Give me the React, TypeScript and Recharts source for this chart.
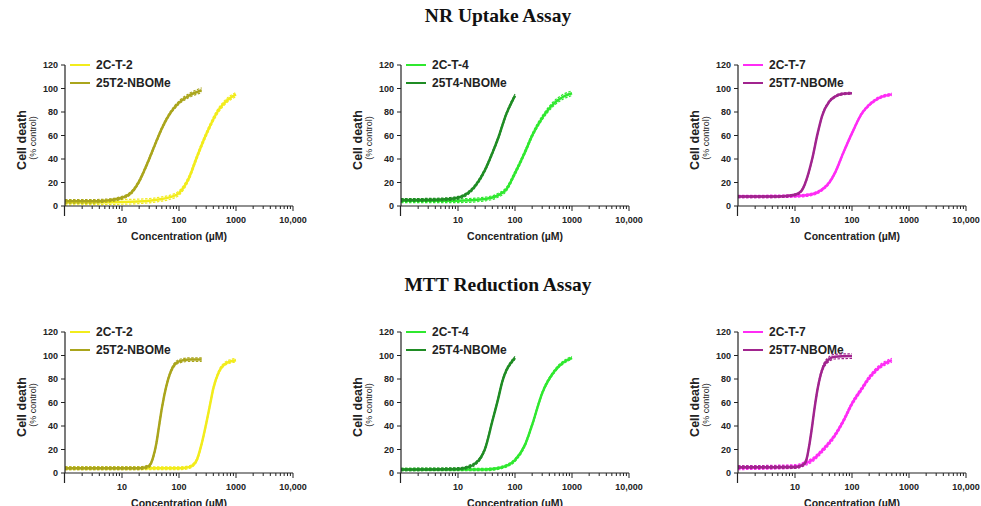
import React from 'react'
import { LineChart, Line, XAxis, YAxis, Customized } from 'recharts'

// NR uptake assay — concentration (µM), cell death (% control), 95% CI half-width
const nrT2x = [1, 10, 30, 50, 70, 100, 150, 200, 300, 500, 700, 1000]
const nrT2y = [3, 3.5, 4.5, 6, 7.5, 11, 24, 40, 61, 82, 90, 95]
const nrT2ci = [2, 2, 1.8, 1.8, 1.8, 1.8, 1.8, 1.8, 1.8, 1.8, 1.8, 1.8]

const nrN2x = [1, 3, 5, 10, 15, 20, 25, 30, 40, 50, 70, 100, 150, 250]
const nrN2y = [4, 4, 4.5, 7, 12, 21, 31, 40, 55, 66, 79, 88, 94, 98.5]
const nrN2ci = [1.5, 1.5, 1.3, 1.2, 1.2, 1.2, 1.2, 1.2, 1.2, 1.2, 1.2, 1.4, 1.7, 2]

const nrT4x = [1, 10, 30, 50, 70, 100, 150, 200, 300, 500, 700, 1000]
const nrT4y = [4.5, 4.5, 6, 9, 14, 28, 46, 60, 75, 88, 93, 96]
const nrT4ci = [1.6, 1.6, 1.6, 1.6, 1.6, 1.6, 1.6, 1.6, 1.7, 1.9, 2, 2]

const nrN4x = [1, 5, 10, 15, 20, 30, 40, 50, 70, 100]
const nrN4y = [5, 5.5, 7, 11, 17, 31, 45, 57, 78, 94]
const nrN4ci = [1.2, 1.2, 1.2, 1.2, 1.2, 1.2, 1.2, 1.2, 1.2, 1.2]

const nrT7x = [1, 10, 20, 30, 40, 50, 70, 100, 150, 200, 300, 500]
const nrT7y = [8, 8.5, 10, 14, 20, 28, 45, 62, 79, 86, 92, 95]
const nrT7ci = [1, 1, 1, 1, 1, 1, 1, 1, 1, 1, 1, 1]

const nrN7x = [1, 5, 10, 13, 15, 20, 25, 30, 40, 50, 70, 100]
const nrN7y = [8, 8, 9.5, 13, 19, 40, 62, 77, 89, 93, 95.5, 96]
const nrN7ci = [0.8, 0.8, 0.8, 0.8, 0.8, 0.8, 0.8, 0.8, 0.8, 0.8, 0.8, 0.8]

// MTT reduction assay
const mtT2x = [1, 100, 150, 200, 250, 300, 350, 400, 500, 700, 1000]
const mtT2y = [4, 4, 5, 10, 25, 42, 58, 72, 86, 94, 96]
const mtT2ci = [1.2, 1.2, 1.2, 1.2, 1.2, 1.2, 1.2, 1.2, 1.3, 1.4, 1.5]

const mtN2x = [1, 10, 20, 30, 35, 40, 45, 50, 60, 70, 80, 100, 150, 250]
const mtN2y = [4, 4, 4, 6, 13, 25, 41, 55, 74, 85, 91, 95, 96.5, 96.5]
const mtN2ci = [1.2, 1.2, 1.2, 1.2, 1.2, 1.2, 1.2, 1.2, 1.2, 1.3, 1.4, 1.5, 1.5, 1.5]

const mtT4x = [1, 30, 50, 70, 100, 150, 200, 300, 500, 700, 1000]
const mtT4y = [3, 3, 4, 6, 11, 24, 41, 68, 87, 94, 98]
const mtT4ci = [1, 1, 1, 1, 1.2, 1.2, 1.2, 1.2, 1.2, 1.2, 1.2]

const mtN4x = [1, 10, 15, 20, 25, 30, 40, 50, 60, 70, 80, 100]
const mtN4y = [3, 3.5, 5, 8, 13, 21, 44, 62, 78, 87, 92, 98]
const mtN4ci = [1, 1, 1.2, 1.2, 1.2, 1.2, 1.2, 1.2, 1.2, 1.2, 1.2, 1.2]

const mtT7x = [1, 10, 15, 20, 30, 50, 70, 100, 150, 200, 300, 500]
const mtT7y = [4.5, 5.5, 8, 11, 19, 32, 44, 59, 72, 81, 90, 96]
const mtT7ci = [1.6, 1.6, 1.6, 1.6, 1.6, 1.6, 1.6, 1.6, 1.6, 1.6, 1.6, 1.6]

const mtN7x = [1, 10, 14, 16, 18, 20, 22, 25, 30, 40, 50, 100]
const mtN7y = [5, 5, 7, 12, 25, 40, 55, 72, 88, 97, 99, 99.5]
const mtN7ci = [1, 1, 1, 1, 1, 1, 1, 1.2, 1.5, 2, 2, 2]

const yTicks = [0, 20, 40, 60, 80, 100, 120]
const majorTicks = [10, 100, 1000, 10000]
const xTickLabels = ['10', '100', '1000', '10,000']
const minorTicks: number[] = []
for (const d of [1, 10, 100, 1000]) for (let k = 2; k <= 9; k++) minorTicks.push(d * k)
const xTicks = [...minorTicks, ...majorTicks].sort((a, b) => a - b)

const FONT = '"Liberation Sans", Arial, Helvetica, sans-serif'
const INK = '#222'

const rows = (xs: number[], ys: number[], ci: number[]) =>
  xs.map((x, i) => ({ x, y: ys[i], hi: ys[i] + ci[i], lo: ys[i] - ci[i] }))

type Curve = { name: string; color: string; data: ReturnType<typeof rows> }

function XTick(props: any) {
  const { x, y, payload } = props
  const idx = majorTicks.indexOf(payload.value)
  const major = idx >= 0
  return (
    <g>
      <line x1={x} x2={x} y1={y} y2={y + (major ? 5 : 3)} stroke={INK} strokeWidth={1} />
      {major && (
        <text x={x} y={y + 17} textAnchor="middle" fontSize={9} fontWeight="bold" fill={INK} fontFamily={FONT}>
          {xTickLabels[idx]}
        </text>
      )}
    </g>
  )
}

function Decor({ curves }: { curves: Curve[] }) {
  return (
    <g fontFamily={FONT} fill={INK}>
      <line x1={64.5} x2={64.5} y1={206} y2={216} stroke={INK} strokeWidth={1.2} />
      <text transform="translate(26,140) rotate(-90)" textAnchor="middle" fontSize={12.5} fontWeight="bold">
        Cell death
      </text>
      <text transform="translate(36,138) rotate(-90)" textAnchor="middle" fontSize={9}>
        (% control)
      </text>
      <text x={179} y={240} textAnchor="middle" fontSize={10.5} fontWeight="bold">
        Concentration (µM)
      </text>
      {curves.map((c, i) => (
        <g key={c.name}>
          <line x1={70} x2={90} y1={65 + i * 18} y2={65 + i * 18} stroke={c.color} strokeWidth={2} />
          <text x={96} y={69 + i * 18} fontSize={12} fontWeight="bold">
            {c.name}
          </text>
        </g>
      ))}
    </g>
  )
}

function Panel({ left, top, curves }: { left: number; top: number; curves: Curve[] }) {
  return (
    <div style={{ position: 'absolute', left, top }}>
      <LineChart width={308} height={250} margin={{ top: 65, right: 15, bottom: 14, left: 4 }}>
        <XAxis
          dataKey="x"
          type="number"
          scale="log"
          domain={[1, 10000]}
          allowDataOverflow
          ticks={xTicks}
          interval={0}
          tick={<XTick />}
          tickSize={0}
          tickMargin={0}
          tickLine={false}
          height={30}
          axisLine={{ stroke: INK, strokeWidth: 1.2 }}
        />
        <YAxis
          type="number"
          domain={[0, 120]}
          ticks={yTicks}
          interval={0}
          width={61}
          tickSize={4}
          tickMargin={3}
          tick={{ fontSize: 9, fontWeight: 'bold', fill: INK, fontFamily: FONT }}
          tickLine={{ stroke: INK, strokeWidth: 1 }}
          axisLine={{ stroke: INK, strokeWidth: 1.2 }}
        />
        {curves.map((c) => [
          <Line key={c.name + 'hi'} data={c.data} dataKey="hi" type="monotone" stroke={c.color} strokeWidth={1.2} strokeDasharray="2.5 1.5" dot={false} isAnimationActive={false} />,
          <Line key={c.name + 'lo'} data={c.data} dataKey="lo" type="monotone" stroke={c.color} strokeWidth={1.2} strokeDasharray="2.5 1.5" dot={false} isAnimationActive={false} />,
          <Line key={c.name} data={c.data} dataKey="y" type="monotone" stroke={c.color} strokeWidth={2.5} dot={false} isAnimationActive={false} />,
        ])}
        <Customized component={<Decor curves={curves} />} />
      </LineChart>
    </div>
  )
}

const YELLOW = '#f2ec1c'
const OLIVE = '#aaa51c'
const GREEN = '#2fe82f'
const DKGREEN = '#1f8c24'
const MAGENTA = '#ff2cf5'
const PURPLE = '#a1248e'

const panels = [
  { left: 0, top: 0, curves: [{ name: '2C-T-2', color: YELLOW, data: rows(nrT2x, nrT2y, nrT2ci) }, { name: '25T2-NBOMe', color: OLIVE, data: rows(nrN2x, nrN2y, nrN2ci) }] },
  { left: 336, top: 0, curves: [{ name: '2C-T-4', color: GREEN, data: rows(nrT4x, nrT4y, nrT4ci) }, { name: '25T4-NBOMe', color: DKGREEN, data: rows(nrN4x, nrN4y, nrN4ci) }] },
  { left: 673, top: 0, curves: [{ name: '2C-T-7', color: MAGENTA, data: rows(nrT7x, nrT7y, nrT7ci) }, { name: '25T7-NBOMe', color: PURPLE, data: rows(nrN7x, nrN7y, nrN7ci) }] },
  { left: 0, top: 267, curves: [{ name: '2C-T-2', color: YELLOW, data: rows(mtT2x, mtT2y, mtT2ci) }, { name: '25T2-NBOMe', color: OLIVE, data: rows(mtN2x, mtN2y, mtN2ci) }] },
  { left: 336, top: 267, curves: [{ name: '2C-T-4', color: GREEN, data: rows(mtT4x, mtT4y, mtT4ci) }, { name: '25T4-NBOMe', color: DKGREEN, data: rows(mtN4x, mtN4y, mtN4ci) }] },
  { left: 673, top: 267, curves: [{ name: '2C-T-7', color: MAGENTA, data: rows(mtT7x, mtT7y, mtT7ci) }, { name: '25T7-NBOMe', color: PURPLE, data: rows(mtN7x, mtN7y, mtN7ci) }] },
]

const titleStyle: React.CSSProperties = {
  position: 'absolute',
  left: 0,
  width: 996,
  textAlign: 'center',
  fontFamily: '"Liberation Serif", "Times New Roman", serif',
  fontWeight: 'bold',
  fontSize: 19.5,
  lineHeight: '22px',
  color: '#111',
}

export default function App() {
  return (
    <div style={{ position: 'absolute', left: 0, top: 0, width: 981, height: 506, overflow: 'hidden', background: '#fff' }}>
      <div style={{ ...titleStyle, top: 5 }}>NR Uptake Assay</div>
      <div style={{ ...titleStyle, top: 274 }}>MTT Reduction Assay</div>
      {panels.map((p, i) => (
        <Panel key={i} left={p.left} top={p.top} curves={p.curves} />
      ))}
    </div>
  )
}
